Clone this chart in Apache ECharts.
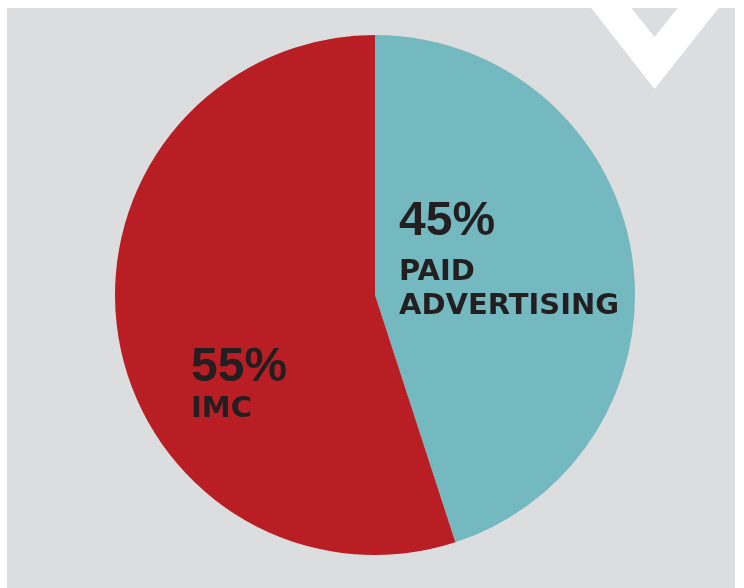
<!DOCTYPE html>
<html>
<head>
<meta charset="utf-8">
<style>
  html, body { margin: 0; padding: 0; background: #ffffff; }
  #chart { width: 744px; height: 588px; }
</style>
<script src="https://cdn.jsdelivr.net/npm/echarts@6/dist/echarts.min.js"></script>
</head>
<body>
<div id="chart"></div>
<script>
// Share of budget by channel
const categories = ['PAID ADVERTISING', 'IMC'];
const shares = [45, 55];
const nameLines = [['PAID', 'ADVERTISING'], ['IMC']];
const sliceColors = ['#74b9c0', '#b81e23'];

const chart = echarts.init(document.getElementById('chart'), null, { renderer: 'canvas' });

const pieData = categories.map((c, i) => ({
  name: c,
  value: shares[i],
  itemStyle: { color: sliceColors[i] }
}));

// where each label block's top-left corner sits
const labelAnchors = [
  { x: 399, y: 189 },
  { x: 191, y: 342 }
];

const textColor = '#231f20';

chart.setOption({
  animation: false,
  graphic: [
    { type: 'rect', z: -10, shape: { x: 7, y: 8, width: 728, height: 580 }, style: { fill: '#dcdddf' } },
    {
      type: 'polygon', z: -5,
      shape: { points: [[585, 0], [625, 0], [654.5, 37], [684, 0], [725, 0], [654.5, 89]] },
      style: { fill: '#ffffff' }
    }
  ],
  series: [{
    type: 'pie',
    center: [375, 295],
    radius: [0, 260],
    startAngle: 90,
    clockwise: true,
    silent: true,
    data: pieData,
    itemStyle: { borderWidth: 0 },
    label: {
      show: true,
      position: 'inside',
      formatter: (p) => '{pct' + p.dataIndex + '|' + p.value + '%}\n' +
        nameLines[p.dataIndex].map(s => '{name' + p.dataIndex + '|' + s + '}').join('\n'),
      rich: {
        pct0: {
          fontFamily: 'Liberation Sans', fontWeight: 'bold', fontSize: 48,
          lineHeight: 66, color: textColor, align: 'left'
        },
        pct1: {
          fontFamily: 'Liberation Sans', fontWeight: 'bold', fontSize: 48,
          lineHeight: 51, color: textColor, align: 'left'
        },
        name0: {
          fontFamily: 'DejaVu Sans', fontWeight: 'bold', fontSize: 29,
          lineHeight: 34, color: textColor, align: 'left'
        },
        name1: {
          fontFamily: 'DejaVu Sans', fontWeight: 'bold', fontSize: 29,
          lineHeight: 32, color: textColor, align: 'left'
        }
      }
    },
    labelLine: { show: false },
    labelLayout: (params) => ({
      x: labelAnchors[params.dataIndex].x,
      y: labelAnchors[params.dataIndex].y,
      align: 'left',
      verticalAlign: 'top'
    })
  }]
});
</script>
</body>
</html>
